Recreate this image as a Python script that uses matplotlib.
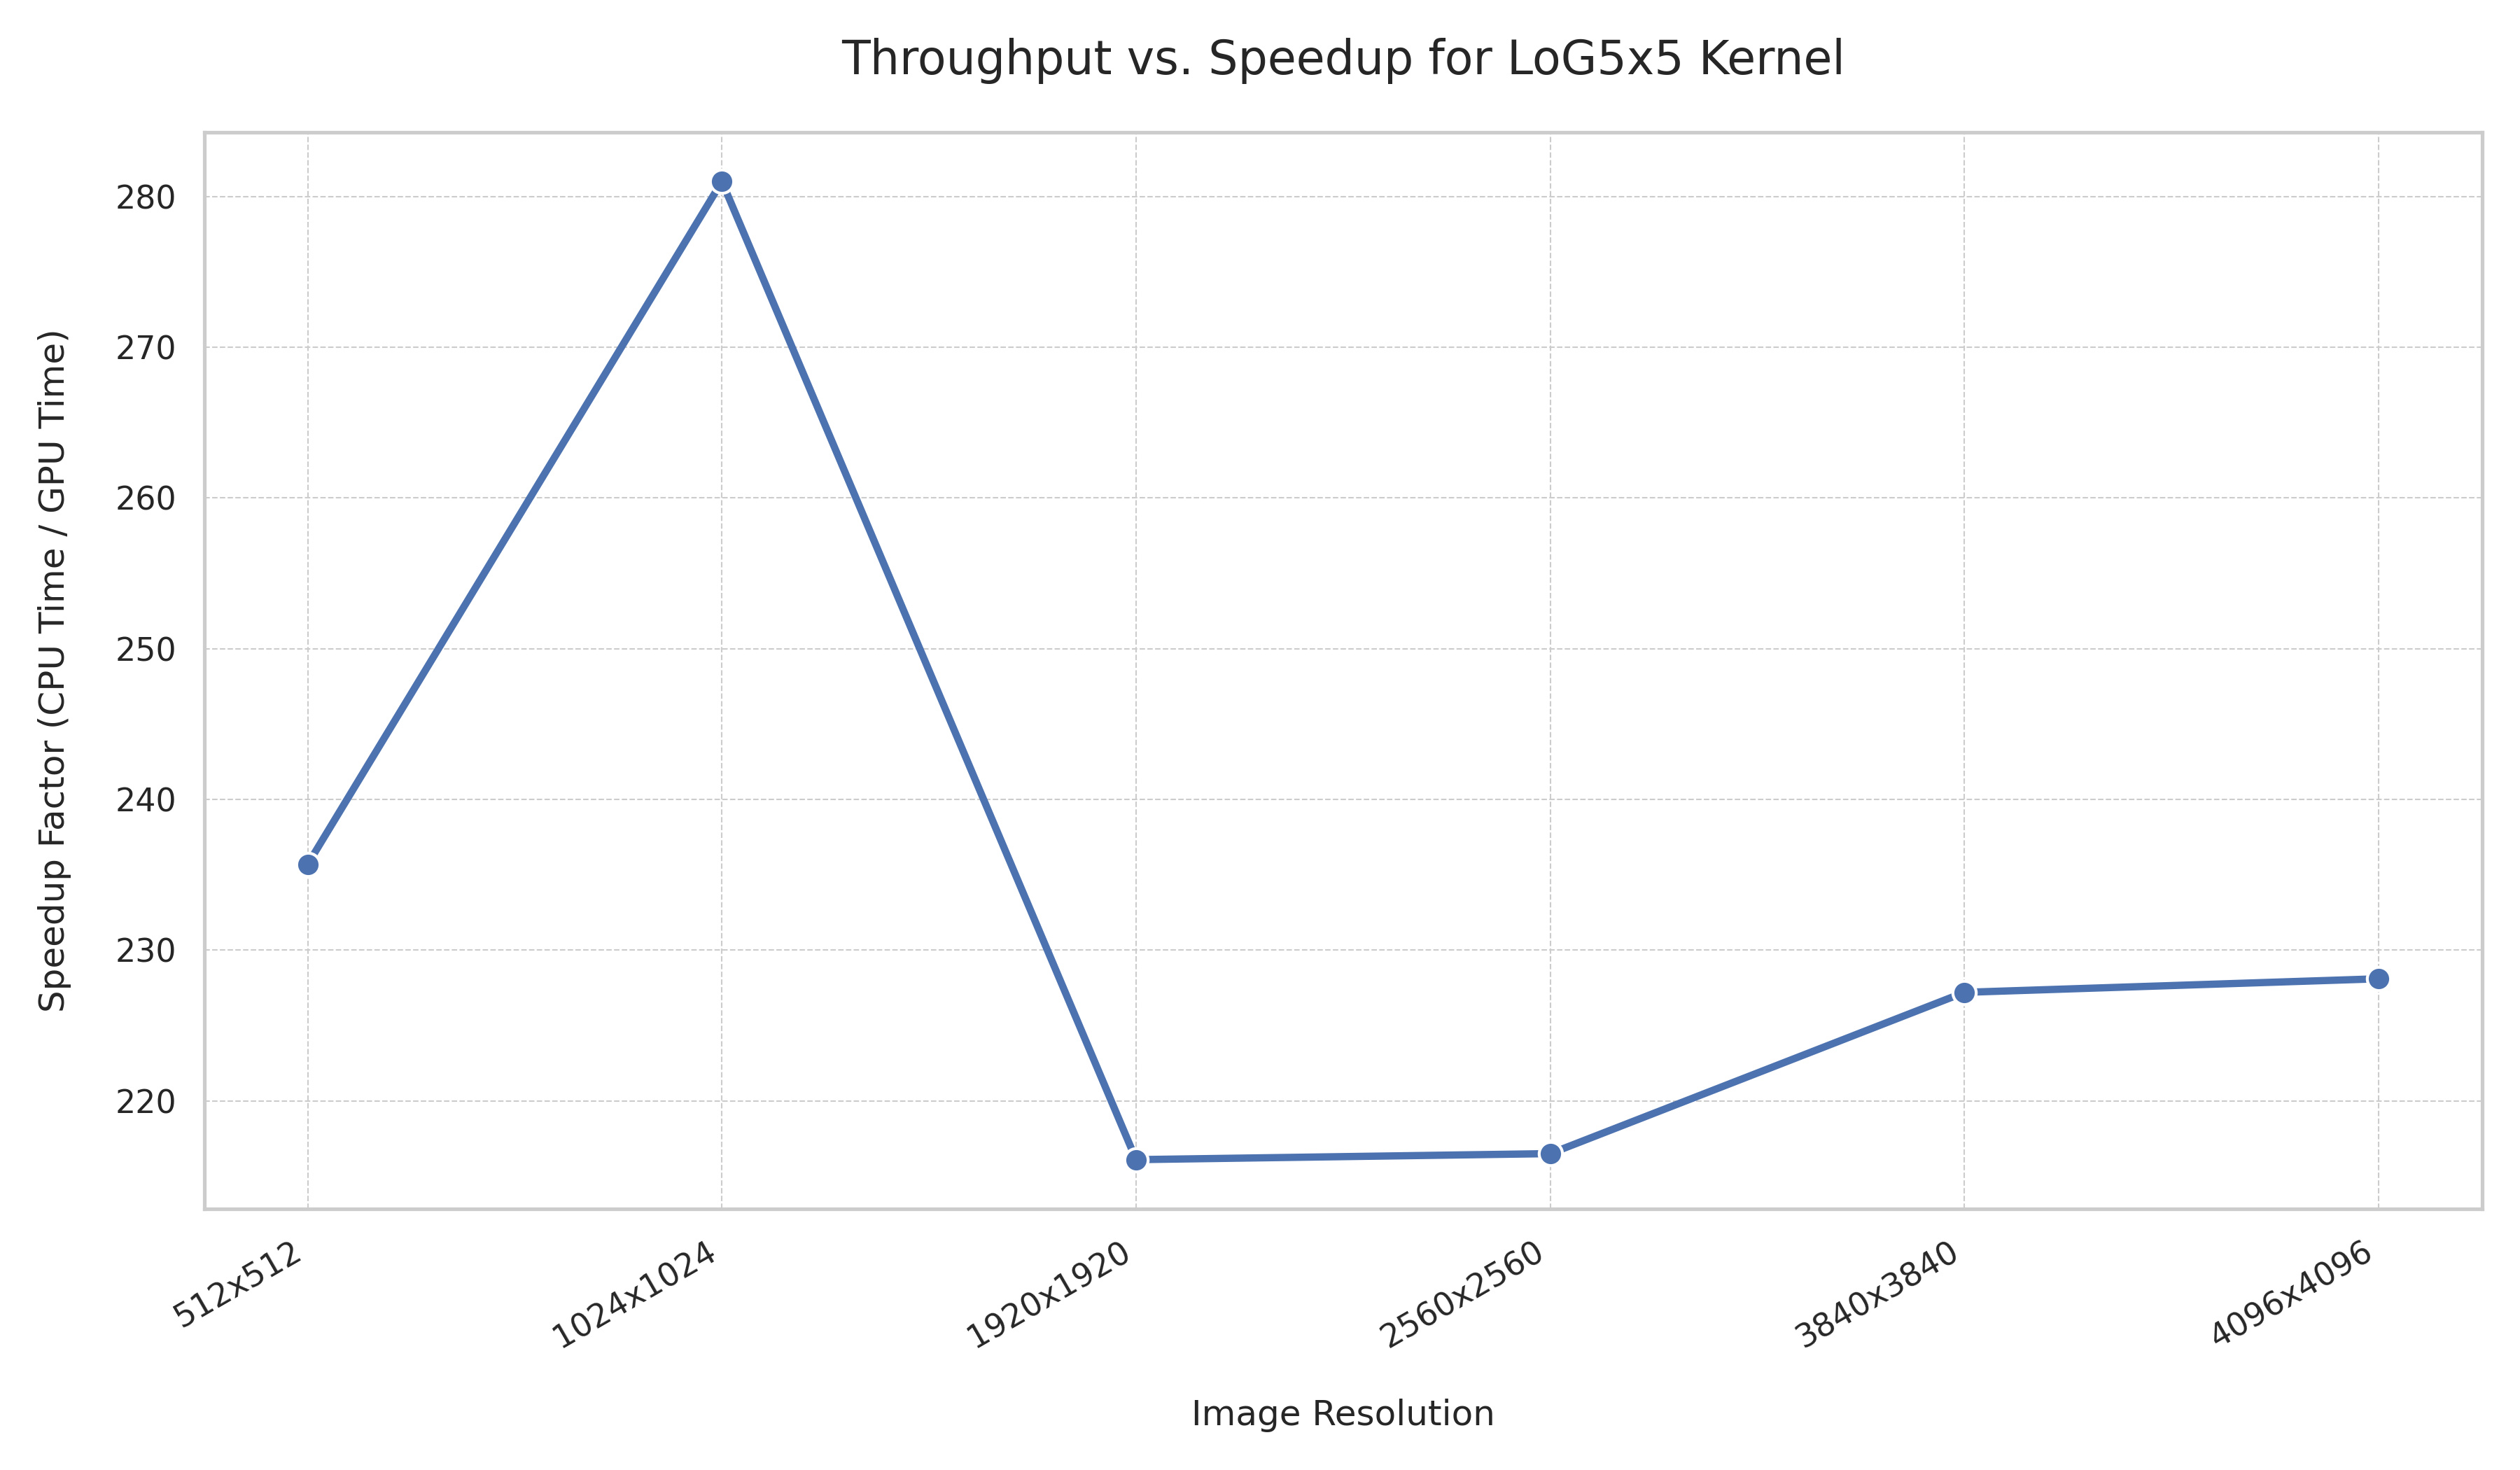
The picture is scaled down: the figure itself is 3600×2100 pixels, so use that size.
import matplotlib
matplotlib.use("Agg")
import matplotlib.pyplot as plt
import seaborn as sns

resolutions = ["512x512", "1024x1024", "1920x1920", "2560x2560", "3840x3840", "4096x4096"]
speedup = [235.7, 281.0, 216.1, 216.5, 227.2, 228.1]

sns.set_theme(style="whitegrid")
plt.rcParams['font.family'] = ['DejaVu Sans']

fig, ax = plt.subplots(figsize=(12, 7), dpi=300)
x = range(len(resolutions))
ax.plot(x, speedup, marker='o', color='#4c72b0', linewidth=2.5, markersize=8,
        markeredgecolor='white', markeredgewidth=1)
ax.set_xticks(list(x))
ax.set_xticklabels(resolutions, rotation=30, ha='right')
ax.grid(True, linestyle='--', linewidth=0.5)
ax.set_title("Throughput vs. Speedup for LoG5x5 Kernel", fontsize=16, pad=20)
ax.set_xlabel("Image Resolution", fontsize=12, labelpad=15)
ax.set_ylabel("Speedup Factor (CPU Time / GPU Time)", fontsize=12, labelpad=15)
plt.tight_layout()
plt.savefig("out.png", dpi=300)
